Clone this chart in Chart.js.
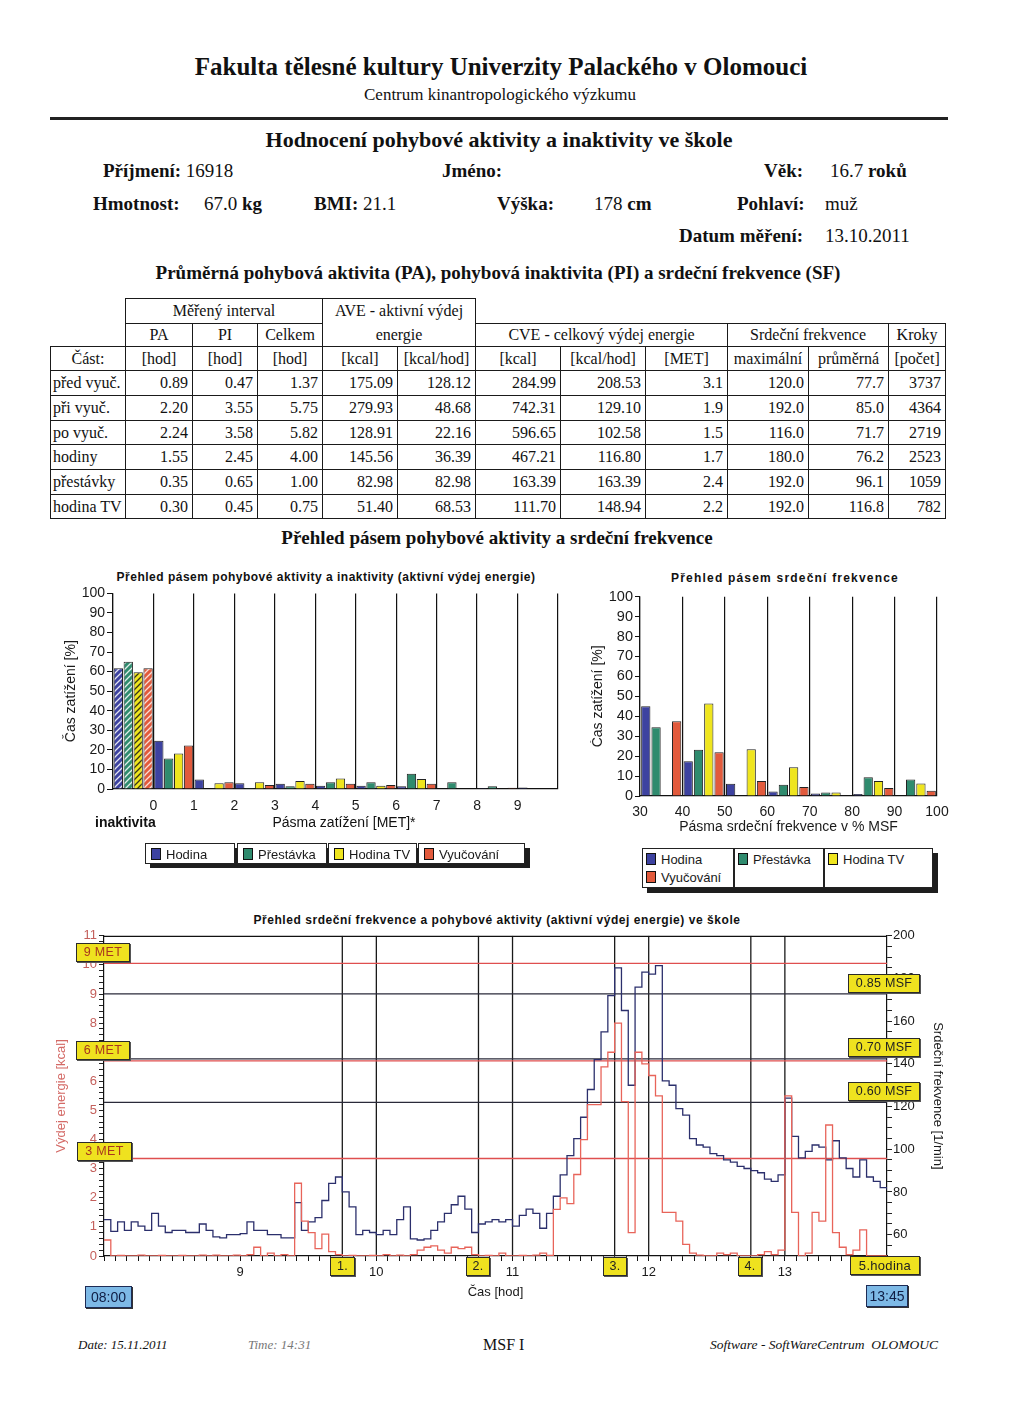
<!DOCTYPE html>
<html lang="cs">
<head>
<meta charset="utf-8">
<title>Hodnocení pohybové aktivity a inaktivity ve škole</title>
<script src="https://cdn.jsdelivr.net/npm/chart.js@4.4.1/dist/chart.umd.min.js"></script>
<style>
html,body{margin:0;padding:0;background:#fff;}
#page{position:relative;width:1024px;height:1409px;overflow:hidden;background:#fff;color:#111;font-family:"Liberation Serif","Times New Roman",serif;}
.t{position:absolute;white-space:nowrap;line-height:1;}
.c{text-align:center;}
.b{font-weight:bold;}
.sans{font-family:"Liberation Sans",Arial,sans-serif;}
.i{font-style:italic;}
canvas{position:absolute;}
#tbl{position:absolute;left:50px;top:298px;width:895px;border-collapse:collapse;table-layout:fixed;font-size:16px;font-family:"Liberation Serif",serif;}
#tbl td{border:1px solid #1a1a1a;padding:0 4px;line-height:1;white-space:nowrap;overflow:hidden;}
#tbl td.n{text-align:right;}
#tbl td.h{text-align:center;}
#tbl td.nm{text-align:left;padding-left:2px;}
#tbl td.e{border:none;}
#tbl td.ave{vertical-align:top;line-height:23.5px;}
.yb{position:absolute;box-sizing:border-box;background:#efe21f;border:1px solid #2a2a2a;box-shadow:1px 1px 0 #555;font-family:"Liberation Sans",Arial,sans-serif;font-size:12.5px;line-height:1;display:flex;align-items:center;justify-content:center;color:#222;letter-spacing:0.3px;}
.yb.met{color:#a8361f;}
.bb{position:absolute;box-sizing:border-box;background:#7db9e6;border:1.5px solid #1d2b55;box-shadow:1px 1px 0 #333;font-family:"Liberation Sans",Arial,sans-serif;font-size:14px;line-height:1;display:flex;align-items:center;justify-content:center;color:#0f1d44;}
.legsh{position:absolute;background:#1e1e1e;}
.lc{position:absolute;box-sizing:border-box;border:1px solid #222;background:#fff;font-family:"Liberation Sans",Arial,sans-serif;font-size:13px;line-height:1;color:#1a1a1a;}
.li{position:absolute;white-space:nowrap;}
.sw{display:inline-block;width:8px;height:10px;border:1px solid #111;margin-right:5px;vertical-align:-1px;}
</style>
</head>
<body>
<div id="page">
  <div class="t b c" style="left:101px;width:800px;top:54px;font-size:25px;">Fakulta tělesné kultury Univerzity Palackého v Olomouci</div>
  <div class="t c" style="left:100px;width:800px;top:86px;font-size:17px;">Centrum kinantropologického výzkumu</div>
  <div style="position:absolute;left:50px;top:117px;width:898px;height:3px;background:#222;"></div>
  <div class="t b c" style="left:99px;width:800px;top:129px;font-size:22px;">Hodnocení pohybové aktivity a inaktivity ve škole</div>

  <div class="t" style="left:103px;top:161px;font-size:19px;"><span class="b">Příjmení:</span> 16918</div>
  <div class="t b" style="left:442px;top:161px;font-size:19px;">Jméno:</div>
  <div class="t b" style="left:764px;top:161px;font-size:19px;">Věk:</div>
  <div class="t" style="left:830px;top:161px;font-size:19px;">16.7 <span class="b">roků</span></div>

  <div class="t b" style="left:93px;top:194px;font-size:19px;">Hmotnost:</div>
  <div class="t" style="left:204px;top:194px;font-size:19px;">67.0 <span class="b">kg</span></div>
  <div class="t" style="left:314px;top:194px;font-size:19px;"><span class="b">BMI:</span> 21.1</div>
  <div class="t b" style="left:497px;top:194px;font-size:19px;">Výška:</div>
  <div class="t" style="left:594px;top:194px;font-size:19px;">178 <span class="b">cm</span></div>
  <div class="t b" style="left:737px;top:194px;font-size:19px;">Pohlaví:</div>
  <div class="t" style="left:825px;top:194px;font-size:19px;">muž</div>

  <div class="t b" style="left:679px;top:226px;font-size:19px;">Datum měření:</div>
  <div class="t" style="left:825px;top:226px;font-size:19px;">13.10.2011</div>

  <div class="t b c" style="left:98px;width:800px;top:263px;font-size:19px;">Průměrná pohybová aktivita (PA), pohybová inaktivita (PI) a srdeční frekvence (SF)</div>

  <table id="tbl">
    <colgroup><col style="width:75px"><col style="width:67px"><col style="width:65px"><col style="width:65px"><col style="width:75px"><col style="width:78px"><col style="width:85px"><col style="width:85px"><col style="width:82px"><col style="width:81px"><col style="width:80px"><col style="width:57px"></colgroup>
    <tbody id="tb">
      <tr style="height:24px"><td class="e"></td><td class="h" colspan="3">Měřený interval</td><td class="h ave" colspan="2" rowspan="2">AVE - aktivní výdej<br>energie</td><td class="e" colspan="6"></td></tr>
      <tr style="height:23px"><td class="e"></td><td class="h">PA</td><td class="h">PI</td><td class="h">Celkem</td><td class="h" colspan="3">CVE - celkový výdej energie</td><td class="h" colspan="2">Srdeční frekvence</td><td class="h">Kroky</td></tr>
      <tr style="height:24px"><td class="h">Část:</td><td class="h">[hod]</td><td class="h">[hod]</td><td class="h">[hod]</td><td class="h">[kcal]</td><td class="h">[kcal/hod]</td><td class="h">[kcal]</td><td class="h">[kcal/hod]</td><td class="h">[MET]</td><td class="h">maximální</td><td class="h">průměrná</td><td class="h">[počet]</td></tr>
    </tbody>
  </table>

  <div class="t b c" style="left:97px;width:800px;top:528px;font-size:19px;">Přehled pásem pohybové aktivity a srdeční frekvence</div>

  <!-- chart 1 -->
  <div class="t b c sans" style="left:26px;width:600px;top:571px;font-size:12px;letter-spacing:0.5px;">Přehled pásem pohybové aktivity a inaktivity (aktivní výdej energie)</div>
  <canvas id="c1" width="512" height="250" style="left:55px;top:583px;"></canvas>
  <div class="t b sans" style="left:95px;top:815px;font-size:14px;">inaktivita</div>
  <div class="t sans c" style="left:244px;width:200px;top:815px;font-size:14px;">Pásma zatížení [MET]*</div>
  <div class="legsh" style="left:150px;top:848px;width:380px;height:20px;"></div>
  <div class="lc" style="left:145px;top:843px;width:90px;height:21px;"><span class="li" style="left:5px;top:4px;"><span class="sw" style="background:#3d42a0"></span>Hodina</span></div>
  <div class="lc" style="left:237px;top:843px;width:90px;height:21px;"><span class="li" style="left:5px;top:4px;"><span class="sw" style="background:#2f8b6e"></span>Přestávka</span></div>
  <div class="lc" style="left:328px;top:843px;width:89px;height:21px;"><span class="li" style="left:5px;top:4px;"><span class="sw" style="background:#efe51e"></span>Hodina TV</span></div>
  <div class="lc" style="left:418px;top:843px;width:107px;height:21px;"><span class="li" style="left:5px;top:4px;"><span class="sw" style="background:#e25a3c"></span>Vyučování</span></div>

  <!-- chart 2 -->
  <div class="t b c sans" style="left:585px;width:400px;top:572px;font-size:12px;letter-spacing:1.2px;">Přehled pásem srdeční frekvence</div>
  <canvas id="c2" width="370" height="252" style="left:590px;top:586px;"></canvas>
  <div class="legsh" style="left:647px;top:853px;width:291px;height:40px;"></div>
  <div class="lc" style="left:642px;top:848px;width:92px;height:40px;">
    <span class="li" style="left:3px;top:4px;"><span class="sw" style="background:#3d42a0"></span>Hodina</span>
    <span class="li" style="left:3px;top:22px;"><span class="sw" style="background:#e25a3c"></span>Vyučování</span>
  </div>
  <div class="lc" style="left:734px;top:848px;width:90px;height:40px;"><span class="li" style="left:3px;top:4px;"><span class="sw" style="background:#2f8b6e"></span>Přestávka</span></div>
  <div class="lc" style="left:824px;top:848px;width:109px;height:40px;"><span class="li" style="left:3px;top:4px;"><span class="sw" style="background:#efe51e"></span>Hodina TV</span></div>

  <!-- chart 3 -->
  <div class="t b c sans" style="left:97px;width:800px;top:914px;font-size:12px;letter-spacing:0.55px;">Přehled srdeční frekvence a pohybové aktivity (aktivní výdej energie) ve škole</div>
  <canvas id="c3" width="910" height="376" style="left:50px;top:926px;"></canvas>
  <div class="yb met" style="left:76px;top:943px;width:54px;height:19px;">9 MET</div>
  <div class="yb met" style="left:76px;top:1041px;width:54px;height:19px;">6 MET</div>
  <div class="yb met" style="left:77px;top:1142px;width:55px;height:19px;">3 MET</div>
  <div class="yb" style="left:848px;top:974px;width:72px;height:19px;">0.85 MSF</div>
  <div class="yb" style="left:848px;top:1038px;width:72px;height:19px;">0.70 MSF</div>
  <div class="yb" style="left:848px;top:1082px;width:72px;height:19px;">0.60 MSF</div>
  <div class="yb" style="left:330px;top:1257px;width:25px;height:19px;">1.</div>
  <div class="yb" style="left:466px;top:1257px;width:24px;height:19px;">2.</div>
  <div class="yb" style="left:603px;top:1257px;width:24px;height:19px;">3.</div>
  <div class="yb" style="left:738px;top:1257px;width:24px;height:19px;">4.</div>
  <div class="yb" style="left:850px;top:1256px;width:70px;height:19px;font-size:13px;">5.hodina</div>
  <div class="bb" style="left:85px;top:1286px;width:47px;height:22px;">08:00</div>
  <div class="bb" style="left:866px;top:1285px;width:42px;height:22px;">13:45</div>

  <!-- footer -->
  <div class="t i" style="left:78px;top:1338px;font-size:13px;">Date: 15.11.2011</div>
  <div class="t i" style="left:248px;top:1338px;font-size:13px;color:#777;">Time: 14:31</div>
  <div class="t" style="left:483px;top:1337px;font-size:16px;">MSF I</div>
  <div class="t i" style="left:710px;top:1338px;font-size:13.5px;">Software - SoftWareCentrum&nbsp; OLOMOUC</div>
</div>

<script>
// ---------- table data ----------
const rowParts   = ['před vyuč.','při vyuč.','po vyuč.','hodiny','přestávky','hodina TV'];
const colPA      = ['0.89','2.20','2.24','1.55','0.35','0.30'];
const colPI      = ['0.47','3.55','3.58','2.45','0.65','0.45'];
const colCelkem  = ['1.37','5.75','5.82','4.00','1.00','0.75'];
const colAveKcal = ['175.09','279.93','128.91','145.56','82.98','51.40'];
const colAveKcalH= ['128.12','48.68','22.16','36.39','82.98','68.53'];
const colCveKcal = ['284.99','742.31','596.65','467.21','163.39','111.70'];
const colCveKcalH= ['208.53','129.10','102.58','116.80','163.39','148.94'];
const colMet     = ['3.1','1.9','1.5','1.7','2.4','2.2'];
const colSfMax   = ['120.0','192.0','116.0','180.0','192.0','192.0'];
const colSfAvg   = ['77.7','85.0','71.7','76.2','96.1','116.8'];
const colKroky   = ['3737','4364','2719','2523','1059','782'];

// ---------- chart 1: zones of activity (MET) ----------
const paZones     = ['inaktivita','0-1','1-2','2-3','3-4','4-5','5-6','6-7','7-8','8-9','9-10'];
const paHodina    = [61.7, 24.7, 4.9, 2.9, 2.7, 1.7, 1.7, 1.4, 0.3, 0.5, 0.8];
const paPrestavka = [65.0, 15.6, 0.3, 0.5, 1.4, 3.4, 3.4, 7.8, 3.4, 1.4, 0.2];
const paHodinaTV  = [59.7, 18.1, 2.9, 3.4, 4.1, 5.4, 1.7, 5.1, 0.2, 0.3, 0.2];
const paVyucovani = [61.7, 22.2, 3.4, 2.0, 2.7, 2.7, 2.0, 2.7, 0.3, 0.6, 0.3];
const metTicks    = [0,1,2,3,4,5,6,7,8,9];

// ---------- chart 2: zones of heart rate (% MSF) ----------
const sfZones     = ['30-40','40-50','50-60','60-70','70-80','80-90','90-100'];
const sfHodina    = [45.0, 17.4, 6.1, 2.3, 1.2, 1.0, 0.2];
const sfPrestavka = [34.5, 23.2, 0.2, 5.6, 1.7, 9.4, 8.3];
const sfHodinaTV  = [0.0, 46.4, 23.5, 14.4, 1.7, 7.5, 6.3];
const sfVyucovani = [37.5, 21.9, 7.5, 4.5, 0.3, 4.0, 2.6];

// ---------- chart 3: time series (3-minute samples from 08:00) ----------
const startHour = 8;
const sampleStepMin = 3;
const endMin = 345; // 13:45
const hrBpm = [
 67,61.5,66,62,66,64,62,70,64,61, 62,62,61,61,65,62,59,58.5,60,60,
 60.5,66,62,62,60,60,58.5,58.5,75,62, 66,68,76,84,87,80,73,60,62,61,
 60,62,60,67,73,58,57.5,58,62,66, 70,74,78,72,61,65,66,67,66,67,
 64,69,72,70,63,70,78,88,97,105, 115,128,142,155,172,185,165,130,176,183,
 182,186,132,130,119,116,105,102,101,98, 97,95,94,92,91,90,89,86,85,88,
 124,106,96,99,102,101,95,104,96,91, 87,95,87,85,82, 81
];
const energyKcal = [
 0.55,0,0.02,0,0,0.03,0,0,0.02,0, 0,0.02,0,0,0.03,0,0.03,0,0,0.03,
 0,0.05,0.3,0,0.1,0,0.05,0,2.5,1.2, 0.8,0.25,0.75,0.15,0.05,0,0.02,0,0,0.02,
 0,0.05,0,0.03,0,0.05,0.2,0.3,0.35,0.2, 0.1,0.3,0.25,0.3,0.05,0,0.02,0,0.1,0,
 0,0.02,0,0.03,0.1,0.02,1.6,2.0,1.8,2.8, 4.0,5.2,5.2,6.5,7.0,8.0,5.3,0.8,7.0,6.6,
 6.2,5.5,1.5,1.5,1.2,0.4,0.1,0.03,0,0, 0.1,0.05,0.1,0,0,0,0.05,0.15,0.05,0.2,
 5.5,1.5,0,0.1,1.5,1.2,4.5,0.8,0.3,0.05, 0.2,0.9,0,0,0, 0
];
const metLevelsKcal = [3.35, 6.70, 10.05];      // 3, 6, 9 MET for 67 kg
const msfLevelsBpm  = [122.0, 142.3, 172.8];     // 0.60, 0.70, 0.85 MSF
const lessonMarksMin = [105, 120, 165, 180, 225, 240, 285, 300];

// ---------- build table rows ----------
const rowHeights = [25,25,24,25,25,24];
const tb = document.getElementById('tb');
rowParts.forEach((name, i) => {
  const tr = document.createElement('tr');
  tr.style.height = rowHeights[i] + 'px';
  const cells = [colPA,colPI,colCelkem,colAveKcal,colAveKcalH,colCveKcal,colCveKcalH,colMet,colSfMax,colSfAvg,colKroky];
  let html = '<td class="nm">' + name + '</td>';
  cells.forEach(c => { html += '<td class="n">' + c[i] + '</td>'; });
  tr.innerHTML = html;
  tb.appendChild(tr);
});

// ---------- chart defaults ----------
Chart.defaults.font.family = '"Liberation Sans", Arial, sans-serif';
Chart.defaults.color = '#1a1a1a';
Chart.defaults.animation = false;
Chart.defaults.plugins.legend.display = false;
Chart.defaults.plugins.tooltip.enabled = false;

const COLORS = {hodina:'#3d42a0', prestavka:'#2f8b6e', tv:'#efe51e', vyuc:'#e25a3c'};

function hatch(ctx, color, stripe) {
  const c = document.createElement('canvas');
  c.width = 6; c.height = 6;
  const g = c.getContext('2d');
  g.fillStyle = color; g.fillRect(0,0,6,6);
  g.strokeStyle = stripe; g.lineWidth = 1.3;
  g.beginPath();
  g.moveTo(0,6); g.lineTo(6,0);
  g.moveTo(-3,3); g.lineTo(3,-3);
  g.moveTo(3,9); g.lineTo(9,3);
  g.stroke();
  return ctx.createPattern(c, 'repeat');
}

// ---------- chart 1 ----------
const ctx1 = document.getElementById('c1').getContext('2d');
const series1 = [
  {label:'Hodina', data:paHodina, color:COLORS.hodina, stripe:'rgba(255,255,255,0.85)'},
  {label:'Přestávka', data:paPrestavka, color:COLORS.prestavka, stripe:'rgba(255,255,255,0.85)'},
  {label:'Hodina TV', data:paHodinaTV, color:COLORS.tv, stripe:'rgba(20,20,20,0.85)'},
  {label:'Vyučování', data:paVyucovani, color:COLORS.vyuc, stripe:'rgba(255,255,255,0.8)'}
];
new Chart(ctx1, {
  type:'bar',
  data:{
    labels: paZones,
    datasets: series1.map(s => {
      const pat = hatch(ctx1, s.color, s.stripe);
      return {label:s.label, data:s.data,
        backgroundColor: (c) => c.dataIndex === 0 ? pat : s.color,
        borderColor:'#222', borderWidth:1,
        categoryPercentage:0.98, barPercentage:0.94};
    })
  },
  options:{
    responsive:false, devicePixelRatio:1,
    layout:{padding:{top:9,right:9,left:0,bottom:0}},
    scales:{
      x:{type:'category', display:false, offset:true},
      x2:{type:'linear', position:'bottom', min:-1, max:10, offset:false,
        afterFit:(s)=>{ s.height = 44; },
        ticks:{stepSize:1, autoSkip:false, maxRotation:0, padding:9, font:{size:14}, color:'#1a1a1a',
          callback:(v)=> metTicks.includes(v) ? String(v) : ''},
        grid:{color:'#111', lineWidth:1.2, drawTicks:false, offset:false},
        border:{color:'#111', width:1.2}},
      y:{min:0, max:100,
        afterFit:(s)=>{ s.width = 58; },
        ticks:{stepSize:10, autoSkip:false, padding:2, font:{size:14}, color:'#1a1a1a'},
        grid:{drawOnChartArea:false, tickLength:6, color:'#111'},
        border:{color:'#111', width:1.2},
        title:{display:true, text:'Čas zatížení [%]', font:{size:14}, color:'#1a1a1a', padding:{top:8,bottom:0}}}
    }
  }
});

// ---------- chart 2 ----------
const ctx2 = document.getElementById('c2').getContext('2d');
const series2 = [
  {label:'Hodina', data:sfHodina, color:COLORS.hodina},
  {label:'Přestávka', data:sfPrestavka, color:COLORS.prestavka},
  {label:'Hodina TV', data:sfHodinaTV, color:COLORS.tv},
  {label:'Vyučování', data:sfVyucovani, color:COLORS.vyuc}
];
new Chart(ctx2, {
  type:'bar',
  data:{
    labels: sfZones,
    datasets: series2.map(s => ({label:s.label, data:s.data, backgroundColor:s.color,
      borderColor:'#222', borderWidth:1, categoryPercentage:0.97, barPercentage:0.9}))
  },
  options:{
    responsive:false, devicePixelRatio:1,
    layout:{padding:{top:8,right:23,left:0,bottom:0}},
    scales:{
      x:{type:'category', display:false, offset:true},
      x2:{type:'linear', position:'bottom', min:30, max:100, offset:false,
        afterFit:(s)=>{ s.height = 42; },
        ticks:{stepSize:10, autoSkip:false, maxRotation:0, padding:8, font:{size:14}, color:'#1a1a1a'},
        grid:{color:'#111', lineWidth:1.2, drawTicks:false, offset:false},
        border:{color:'#111', width:1.2},
        title:{display:true, text:'Pásma srdeční frekvence v % MSF', font:{size:14}, color:'#1a1a1a', padding:{top:0,bottom:2}}},
      y:{min:0, max:100,
        afterFit:(s)=>{ s.width = 50; },
        ticks:{stepSize:10, autoSkip:false, padding:2, font:{size:14.5}, color:'#1a1a1a'},
        grid:{drawOnChartArea:false, tickLength:5, color:'#111'},
        border:{color:'#111', width:1.2},
        title:{display:true, text:'Čas zatížení [%]', font:{size:14}, color:'#1a1a1a', padding:{top:0,bottom:0}}}
    }
  }
});

// ---------- chart 3 ----------
const topFrame = {
  id:'topFrame',
  afterDraw(chart){
    const {ctx, chartArea:a} = chart;
    ctx.save(); ctx.strokeStyle = '#111'; ctx.lineWidth = 1.2;
    ctx.beginPath(); ctx.moveTo(a.left, a.top + 0.5); ctx.lineTo(a.right, a.top + 0.5); ctx.stroke();
    ctx.restore();
  }
};
const toXY = (arr) => arr.map((v, i) => ({x: Math.min(i * sampleStepMin, endMin), y: v}));
const datasets3 = [
  {label:'Výdej energie', data: toXY(energyKcal), yAxisID:'yE', xAxisID:'x', stepped:'before',
   borderColor:'#e8645a', borderWidth:1.3, pointRadius:0},
  {label:'Srdeční frekvence', data: toXY(hrBpm), yAxisID:'yH', xAxisID:'x', stepped:'before',
   borderColor:'#2b2f6c', borderWidth:1.3, pointRadius:0}
];
metLevelsKcal.forEach(v => datasets3.push({data:[{x:0,y:v},{x:endMin,y:v}], yAxisID:'yE', xAxisID:'x',
  borderColor:'#df4f4f', borderWidth:1.3, pointRadius:0}));
msfLevelsBpm.forEach(v => datasets3.push({data:[{x:0,y:v},{x:endMin,y:v}], yAxisID:'yH', xAxisID:'x',
  borderColor:'#2a2a3a', borderWidth:1.2, pointRadius:0}));
lessonMarksMin.forEach(t => datasets3.push({data:[{x:t,y:0},{x:t,y:11}], yAxisID:'yE', xAxisID:'x',
  borderColor:'#1a1a1a', borderWidth:1.3, pointRadius:0}));

new Chart(document.getElementById('c3').getContext('2d'), {
  type:'line',
  data:{datasets: datasets3},
  options:{
    responsive:false, devicePixelRatio:1,
    layout:{padding:{top:9,right:0,left:0,bottom:0}},
    scales:{
      x:{type:'linear', position:'bottom', min:0, max:endMin,
        afterFit:(s)=>{ s.height = 46; },
        ticks:{stepSize:5, autoSkip:false, maxRotation:0, padding:4, font:{size:13}, color:'#1a1a1a',
          callback:(v)=> (v > 0 && v % 60 === 0) ? String(startHour + v/60) : ''},
        grid:{drawOnChartArea:false, tickLength:5, color:'#111'},
        border:{color:'#111', width:1.2},
        title:{display:true, text:'Čas [hod]', font:{size:13}, color:'#1a1a1a', padding:{top:0,bottom:2}}},
      yE:{type:'linear', position:'left', min:0, max:11,
        afterFit:(s)=>{ s.width = 54; },
        ticks:{stepSize:0.2, autoSkip:false, padding:2, font:{size:13}, color:'#c4605c',
          callback:(v)=> Math.abs(v - Math.round(v)) < 1e-6 ? String(Math.round(v)) : ''},
        grid:{drawOnChartArea:false, tickLength:5, color:'#222'},
        border:{color:'#111', width:1.2},
        title:{display:true, text:'Výdej energie [kcal]', font:{size:13}, color:'#d46a66', padding:{top:4,bottom:0}}},
      yH:{type:'linear', position:'right', min:50, max:200,
        afterFit:(s)=>{ s.width = 73; },
        ticks:{stepSize:5, autoSkip:false, padding:1, font:{size:13}, color:'#1a1a1a',
          callback:(v)=> (v % 20 === 0 && v >= 60) ? String(v) : ''},
        grid:{drawOnChartArea:false, tickLength:5, color:'#222'},
        border:{color:'#111', width:1.2},
        title:{display:true, text:'Srdeční frekvence [1/min]', font:{size:13}, color:'#1a1a1a', padding:{top:15,bottom:0}}}
    }
  },
  plugins:[topFrame]
});
</script>
</body>
</html>
